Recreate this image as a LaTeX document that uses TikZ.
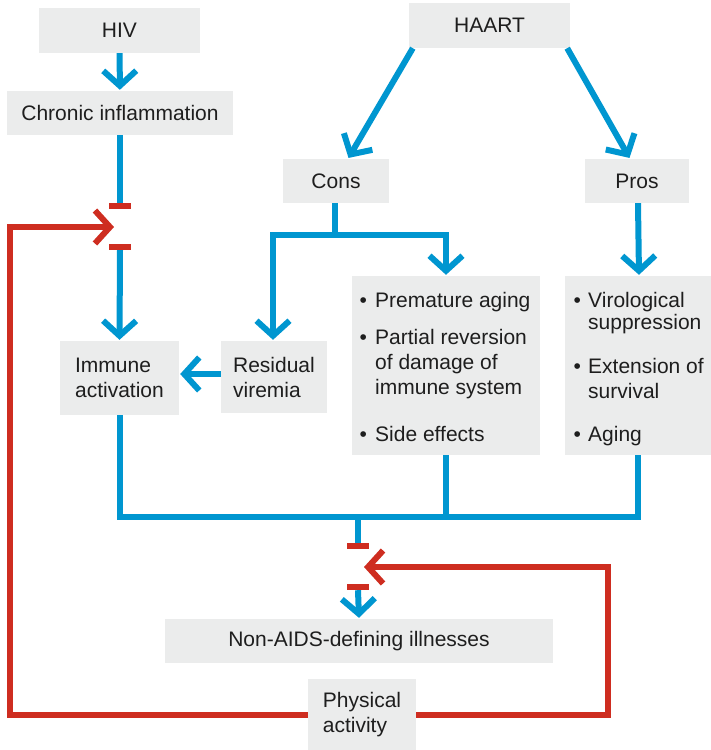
\documentclass[tikz,border=0pt]{standalone}
\usepackage{fontspec}
\setmainfont{Liberation Sans}
\usetikzlibrary{arrows.meta,calc}
\definecolor{hblue}{RGB}{0,150,208}
\definecolor{hred}{RGB}{206,45,32}
\definecolor{hgray}{RGB}{235,236,236}
\definecolor{htext}{RGB}{30,30,30}
\begin{document}
\begin{tikzpicture}[x=1pt,y=-1pt,
 font=\fontsize{21}{25}\selectfont,
 box/.style={fill=hgray, inner sep=0pt, align=left, text=htext},
 bl/.style={draw=hblue, line width=6pt},
 rl/.style={draw=hred, line width=6pt},
 arr/.style={-{Straight Barb[length=15pt,width=33pt]}, shorten >=1pt},
 bar/.style={fill=hred, minimum width=22pt, minimum height=6pt, inner sep=0pt},
 txt/.style={anchor=base west, inner sep=0pt, text=htext}
]
\useasboundingbox (0,0) rectangle (711,750);

% boxes
\node[box, minimum width=161pt, minimum height=45pt] (hiv) at (119.5,30.5) {HIV};
\node[box, minimum width=226pt, minimum height=44pt] (chr) at (120,113) {Chronic inflammation};
\node[box, minimum width=161pt, minimum height=45pt] (haart) at (489.5,25.5) {HAART};
\node[box, minimum width=106pt, minimum height=44pt] (cons) at (336,181) {Cons};
\node[box, minimum width=104pt, minimum height=44pt] (pros) at (637,181) {Pros};
\node[box, minimum width=106pt, minimum height=72pt] (res) at (274,377) {Residual\\viremia};
\node[box, minimum width=119pt, minimum height=74pt] (imm) at (119.5,378) {Immune\\activation};
\node[box, minimum width=388pt, minimum height=44pt] (non) at (359,641) {Non-AIDS-defining illnesses};
\node[box, minimum width=108pt, minimum height=71pt] (pa) at (362,714.5) {Physical\\activity};

% list boxes
\node[box, minimum width=188pt, minimum height=179pt] (cl) at (446,365.5) {};
\node[txt] (c1) at (359.4,307) {\makebox[15.6pt][l]{\textbullet}Premature aging};
\node[txt] (c2) at (359.4,344) {\makebox[15.6pt][l]{\textbullet}Partial reversion};
\node[txt] (c3) at (375,369) {of damage of};
\node[txt] (c4) at (375,394) {immune system};
\node[txt] (c5) at (359.4,441) {\makebox[15.6pt][l]{\textbullet}Side effects};

\node[box, minimum width=146pt, minimum height=179pt] (pl) at (638,365.5) {};
\node[txt] (p1) at (573.4,307) {\makebox[14.6pt][l]{\textbullet}Virological};
\node[txt] (p2) at (588,329) {suppression};
\node[txt] (p3) at (573.4,373) {\makebox[14.6pt][l]{\textbullet}Extension of};
\node[txt] (p4) at (588,398) {survival};
\node[txt] (p5) at (573.4,441) {\makebox[14.6pt][l]{\textbullet}Aging};

% inhibitor bars
\node[bar] (b1) at (120,206) {};
\node[bar] (b2) at (120,247) {};
\node[bar] (b3) at (358,546) {};
\node[bar] (b4) at (358,587) {};

\coordinate (k) at (335,235);
\coordinate (j) at (358,517);
\coordinate (r1) at (115,227);
\coordinate (r2) at (363,567);

% blue connectors
\draw[bl,arr] (hiv) -- (chr);
\draw[bl,arr] ([xshift=4pt]haart.south west) -- ([xshift=12pt]cons.north);
\draw[bl,arr] ([xshift=-3pt]haart.south east) -- ([xshift=-7pt]pros.north);
\draw[bl] (cons.south -| k) -- (k);
\draw[bl,arr] (k) -| ([xshift=-1pt]res.north);
\draw[bl,arr] (k) -| (cl.north);
\draw[bl,arr] ([xshift=1pt]pros.south) -- ([xshift=1pt]pl.north);
\draw[bl,arr] (res.west |- 0,374) -- (imm.east |- 0,374);
\draw[bl] (chr) -- (b1.north);
\draw[bl,arr] (b2.south) -- (imm.north);
\draw[bl] (imm.south) |- (j) -| (pl.south);
\draw[bl] (cl.south) -- (cl.south |- j);
\draw[bl] (j) -- (b3.north);
\draw[bl,arr] (b4.south) -- (non.north);

% red connectors
\draw[rl,arr] (pa.west) -| (10,227) -- (r1);
\draw[rl,arr] (pa.east) -| (608,567) -- (r2);
\end{tikzpicture}
\end{document}
